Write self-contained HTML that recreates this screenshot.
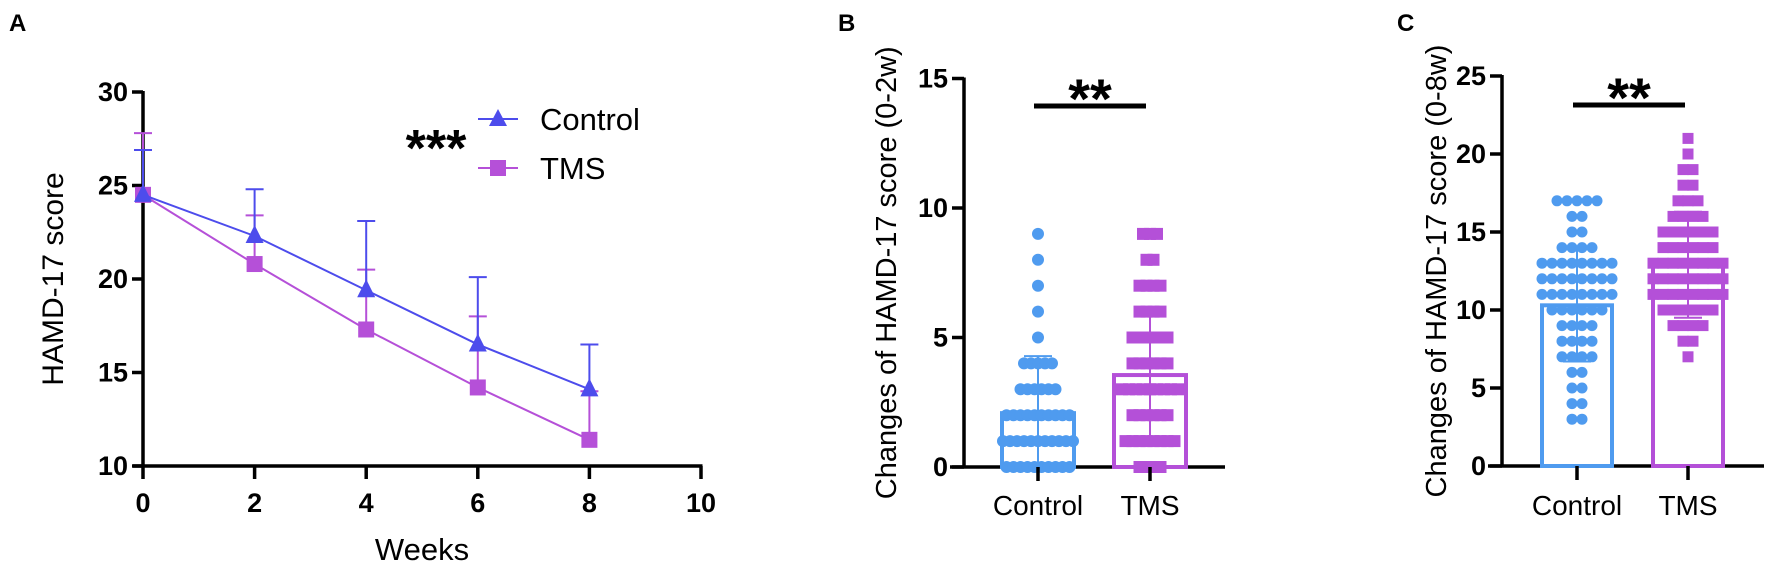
<!DOCTYPE html>
<html><head><meta charset="utf-8"><style>
html,body{margin:0;padding:0;background:#fff;}
svg{display:block;font-family:"Liberation Sans",Arial,sans-serif;}
</style></head><body>
<svg id="fig" width="1772" height="565" viewBox="0 0 1772 565" xmlns="http://www.w3.org/2000/svg">
<g id="A"></g>
<g id="B"></g>
<g id="C"></g>
</svg>
<script>
// Panel A data
const weeks=[0,2,4,6,8];
const controlMean=[24.5,22.3,19.4,16.5,14.1];
const controlUpper=[26.9,24.8,23.1,20.1,16.5];
const tmsMean=[24.5,20.8,17.3,14.2,11.4];
const tmsUpper=[27.8,23.4,20.5,18.0,14.0];
const aYTicks=[10,15,20,25,30];
const aXTicks=[0,2,4,6,8,10];
// Panel B data
const bControlVals=[9,8,7,6,5,4,4,4,4,4,3,3,3,3,3,3,2,2,2,2,2,2,2,2,2,2,1,1,1,1,1,1,1,1,1,1,1,0,0,0,0,0,0,0,0,0,0];
const bTmsVals=[9,9,9,8,8,7,7,7,7,6,6,6,6,5,5,5,5,5,5,4,4,4,4,4,4,3,3,3,3,3,3,3,3,3,2,2,2,2,2,2,1,1,1,1,1,1,1,1,0,0,0,0];
const bMeans=[2.08,3.55];
const bSD=[2.2,2.55];
const bYTicks=[0,5,10,15];
// Panel C data
const cControlVals=[17,17,17,17,17,16,16,15,15,14,14,14,14,13,13,13,13,13,13,13,13,12,12,12,12,12,12,12,12,11,11,11,11,11,11,11,11,10,10,10,10,10,10,9,9,9,9,8,8,8,8,7,7,7,7,6,6,5,5,4,4,3,3];
const cTmsVals=[21,20,19,19,18,18,17,17,17,16,16,16,16,15,15,15,15,15,15,14,14,14,14,14,14,13,13,13,13,13,13,13,13,12,12,12,12,12,12,12,12,11,11,11,11,11,11,11,11,10,10,10,10,10,10,9,9,9,9,8,8,7];
const cMeans=[10.3,12.9];
const cSD=[3.6,3.4];
const cYTicks=[0,5,10,15,20,25];
const groups=["Control","TMS"];

const NS="http://www.w3.org/2000/svg";
function mk(parent,tag,attrs,text){const e=document.createElementNS(NS,tag);for(const k in attrs)e.setAttribute(k,attrs[k]);if(text!==undefined)e.textContent=text;parent.appendChild(e);return e;}

const BLUE_A="#4d4cec",PURP_A="#b550d8",BLUE="#4f9bef",PURP="#b450d8";

// ---------- Panel A ----------
const A=document.getElementById('A');
const ax=v=>143+v*55.8, ay=v=>466-(v-10)*18.7;
let t=mk(A,'text',{x:9,y:31,'font-size':24,'font-weight':'bold'},'A');


let l=mk(A,'line',{x1:ax(0),y1:ay(30)-1,x2:ax(0),y2:ay(10)+1.5,stroke:'#000','stroke-width':3.5});


l=mk(A,'line',{x1:ax(0)-10,y1:ay(10),x2:ax(10)+1.5,y2:ay(10),stroke:'#000','stroke-width':3.5});


aYTicks.forEach(v=>{
  mk(A,'line',{x1:ax(0)-11,y1:ay(v),x2:ax(0),y2:ay(v),stroke:'#000','stroke-width':3.5});
  const tt=mk(A,'text',{x:ax(0)-15,y:ay(v)+9,'font-size':27,'font-weight':'bold','text-anchor':'end'},String(v));
  
  
});
aXTicks.forEach(v=>{
  mk(A,'line',{x1:ax(v),y1:ay(10),x2:ax(v),y2:ay(10)+13,stroke:'#000','stroke-width':3.5});
  const tt=mk(A,'text',{x:ax(v),y:512,'font-size':27,'font-weight':'bold','text-anchor':'middle'},String(v));
  
  
});
t=mk(A,'text',{x:ax(5),y:560,'font-size':31,'text-anchor':'middle'},'Weeks');


t=mk(A,'text',{x:0,y:0,'font-size':30,'text-anchor':'middle',transform:`translate(63,279) rotate(-90)`},'HAMD-17 score');


function series(mean,upper,color,marker,name){
  const g=mk(A,'g',{});
  
  
  weeks.forEach((w,i)=>{
    mk(g,'line',{x1:ax(w),y1:ay(mean[i]),x2:ax(w),y2:ay(upper[i]),stroke:color,'stroke-width':2});
    mk(g,'line',{x1:ax(w)-9,y1:ay(upper[i]),x2:ax(w)+9,y2:ay(upper[i]),stroke:color,'stroke-width':2});
  });
  mk(g,'polyline',{points:weeks.map((w,i)=>ax(w)+','+ay(mean[i])).join(' '),fill:'none',stroke:color,'stroke-width':2});
  weeks.forEach((w,i)=>{
    const x=ax(w),y=ay(mean[i]);
    let m;
    if(marker==='tri') m=mk(g,'polygon',{points:`${x},${y-11} ${x-9},${y+7} ${x+9},${y+7}`,fill:color});
    else m=mk(g,'rect',{x:x-8,y:y-8,width:16,height:16,fill:color});
    
    
  });
}
series(tmsMean,tmsUpper,PURP_A,'sq','tms');
series(controlMean,controlUpper,BLUE_A,'tri','control');
// legend
let lg=mk(A,'g',{});


mk(lg,'line',{x1:478,y1:119,x2:518,y2:119,stroke:BLUE_A,'stroke-width':2});
mk(lg,'polygon',{points:'498,109 489,126 507,126',fill:BLUE_A});
t=mk(lg,'text',{x:540,y:130,'font-size':31},'Control');


mk(lg,'line',{x1:478,y1:168,x2:518,y2:168,stroke:PURP_A,'stroke-width':2});
mk(lg,'rect',{x:490,y:160,width:16,height:16,fill:PURP_A});
t=mk(lg,'text',{x:540,y:179,'font-size':31},'TMS');


t=mk(A,'text',{x:436,y:166,'font-size':52,'font-weight':'bold','text-anchor':'middle'},'***');



// ---------- Scatter-bar panels ----------
function scatterPanel(P,opt){
  const y=v=>opt.y0-v*opt.ppu;
  let tt=mk(P,'text',{x:opt.letterX,y:31,'font-size':24,'font-weight':'bold'},opt.letter);
  
  
  let yl=mk(P,'line',{x1:opt.axX,y1:y(opt.ticks[opt.ticks.length-1])-1,x2:opt.axX,y2:opt.y0+1.5,stroke:'#000','stroke-width':3.5});
  
  
  let xl=mk(P,'line',{x1:opt.axX-14,y1:opt.y0,x2:opt.axEnd,y2:opt.y0,stroke:'#000','stroke-width':3.5});
  
  
  opt.ticks.forEach(v=>{
    mk(P,'line',{x1:opt.axX-12,y1:y(v),x2:opt.axX,y2:y(v),stroke:'#000','stroke-width':3.5});
    const q=mk(P,'text',{x:opt.axX-16,y:y(v)+9,'font-size':27,'font-weight':'bold','text-anchor':'end'},String(v));
    
    
  });
  tt=mk(P,'text',{x:0,y:0,'font-size':29,'text-anchor':'middle',transform:`translate(${opt.titleX},${(y(opt.ticks[opt.ticks.length-1])+opt.y0)/2}) rotate(-90)`},opt.title);
  
  
  const cols=[BLUE,PURP];
  opt.vals.forEach((vals,gi)=>{
    const cx=opt.cx[gi],col=cols[gi];
    const g=mk(P,'g',{});
    
    
    const bar=mk(g,'rect',{x:cx-opt.bw/2,y:y(opt.means[gi]),width:opt.bw,height:opt.y0-y(opt.means[gi]),fill:'none',stroke:col,'stroke-width':4});
    
    
    const hi=opt.means[gi]+opt.sd[gi],lo=Math.max(0,opt.means[gi]-opt.sd[gi]);
    mk(g,'line',{x1:cx,y1:y(hi),x2:cx,y2:y(lo),stroke:col,'stroke-width':2});
    mk(g,'line',{x1:cx-14,y1:y(hi),x2:cx+14,y2:y(hi),stroke:col,'stroke-width':2});
    mk(g,'line',{x1:cx-14,y1:y(lo),x2:cx+14,y2:y(lo),stroke:col,'stroke-width':2});
    const counts={};
    vals.forEach(v=>{counts[v]=(counts[v]||0)+1;});
    const seen={};
    vals.forEach(v=>{
      const n=counts[v],k=(seen[v]=(seen[v]||0)+1)-1;
      const sp=Math.min(opt.sp,(opt.bw+10)/Math.max(1,n-1));
      const px=cx+(k-(n-1)/2)*sp, py=y(v);
      let m;
      if(gi===0) m=mk(g,'circle',{cx:px,cy:py,r:opt.r,fill:col});
      else m=mk(g,'rect',{x:px-opt.r,y:py-opt.r,width:2*opt.r,height:2*opt.r,fill:col});
      
      
    });
    mk(P,'line',{x1:cx,y1:opt.y0,x2:cx,y2:opt.y0+14,stroke:'#000','stroke-width':3.5});
    const lab=mk(P,'text',{x:cx,y:515,'font-size':28,'text-anchor':'middle'},groups[gi]);
    
    
  });
  const sb=mk(P,'line',{x1:opt.sig[0],y1:opt.sigY,x2:opt.sig[1],y2:opt.sigY,stroke:'#000','stroke-width':5});
  
  
  tt=mk(P,'text',{x:(opt.sig[0]+opt.sig[1])/2,y:opt.sigY+12,'font-size':56,'font-weight':'bold','text-anchor':'middle'},'**');
  
  
}
scatterPanel(document.getElementById('B'),{letter:'B',letterX:838,axX:964,axEnd:1225,y0:467,ppu:25.9,ticks:bYTicks,
  title:'Changes of HAMD-17 score (0-2w)',titleX:896,cx:[1038,1150],bw:72,means:bMeans,sd:bSD,vals:[bControlVals,bTmsVals],
  r:6,sp:7,sig:[1034,1146],sigY:106});
scatterPanel(document.getElementById('C'),{letter:'C',letterX:1397,axX:1502,axEnd:1764,y0:466,ppu:15.6,ticks:cYTicks,
  title:'Changes of HAMD-17 score (0-8w)',titleX:1446,cx:[1577,1688],bw:70,means:cMeans,sd:cSD,vals:[cControlVals,cTmsVals],
  r:5.5,sp:10,sig:[1573,1685],sigY:105});
</script>
</body></html>
